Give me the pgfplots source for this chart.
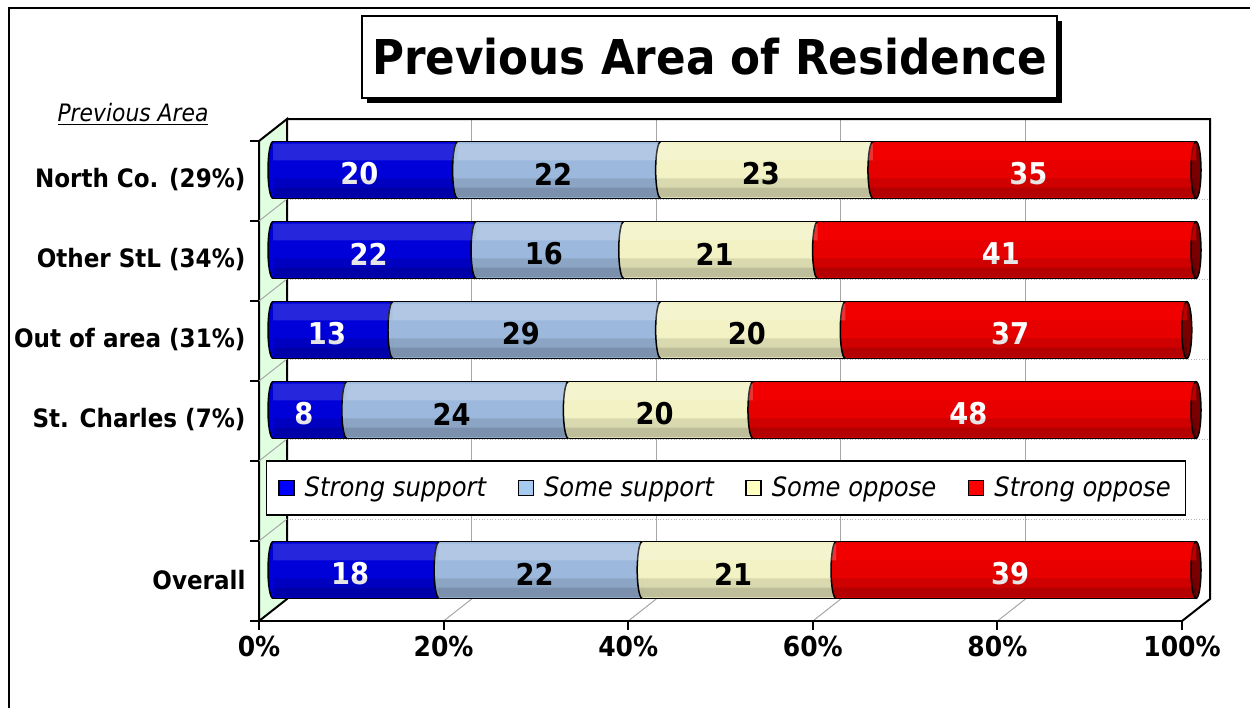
\documentclass[border=0pt]{standalone}
\usepackage{fontspec}
\setmainfont{DejaVu Sans}[FakeStretch=0.91]
\usepackage{pgfplots}
\pgfplotsset{compat=1.18}
\usepackage{pgfplotstable}
\newcommand\fs[1]{\fontsize{#1}{#1}\selectfont}

\definecolor{cBlue}{HTML}{0000FF}
\definecolor{cLBlue}{HTML}{A6CAF0}
\definecolor{cYel}{HTML}{FFFFC0}
\definecolor{cRed}{HTML}{FF0000}
\definecolor{bBlue}{HTML}{0000D8}
\definecolor{bLBlue}{HTML}{9CB8DC}
\definecolor{bYel}{HTML}{F2F2C4}
\definecolor{bRed}{HTML}{E60000}
\definecolor{wallGreen}{HTML}{E0FFE0}
\definecolor{capRed}{HTML}{7A0000}

\pgfplotstableread{
y v
5 20
4 22
3 13
2 8
0 18
}\ssup
\pgfplotstableread{
y v
5 22
4 16
3 29
2 24
0 22
}\smsup
\pgfplotstableread{
y v
5 23
4 21
3 20
2 20
0 21
}\smopp
\pgfplotstableread{
y v
5 35
4 41
3 37
2 48
0 39
}\sopp
\pgfplotstableread{
y v
5 0
4 0
3 0
2 0
0 0
}\zer

% full end cap
\pgfdeclareplotmark{capmark}{\pgfpathellipse{\pgfpointorigin}{\pgfqpoint{3pt}{0pt}}{\pgfqpoint{0pt}{17pt}}\pgfusepathqfillstroke}
% segment start: filled ellipse, only the left arc stroked
\pgfdeclareplotmark{bnd}{%
  \pgfpathellipse{\pgfpointorigin}{\pgfqpoint{3pt}{0pt}}{\pgfqpoint{0pt}{17pt}}\pgfusepathqfill
  \pgfpathmoveto{\pgfqpoint{0pt}{17pt}}\pgfpatharc{90}{270}{3pt and 17pt}\pgfusepathqstroke}

\pgfplotsset{
  base/.style={at={(163.8pt,-366pt)}, anchor=south west, scale only axis,
    width=553.8pt, height=288pt, xmin=0, xmax=100, ymin=-0.5, ymax=5.5, clip=false},
  barlbl/.style={point meta=explicit symbolic, nodes near coords={\pgfplotspointmeta},
    every node near coord/.append style={anchor=center, xshift=-3.6pt, yshift=-2.4pt, font=\fs{18}\bfseries, text=#1}},
  band/.style={forget plot, draw=none, fill=#1},
}

\begin{document}
\begin{tikzpicture}
\useasboundingbox (0,0) rectangle (750pt,-424.2pt);
\begin{scope}[x=0.6pt,y=-0.6pt]
  % outer frame
  \draw[line width=1.2pt] (9,760) -- (9,8) -- (1300,8);
  % title
  \fill[black] (367,21) rectangle (1062,103);
  \draw[fill=white,line width=1.2pt] (362,16) rectangle (1057,98);
  \node at (709.5,57) {\fs{28.8}\bfseries Previous Area of Residence};
  \node at (133,114) {\fs{14.4}\itshape\underline{Previous Area}};
  % back wall
  \fill[white] (287,119) rectangle (1210,599);
  \foreach \j in {1,...,5} \draw[gray!60,densely dotted,line width=0.6pt] (287,119+80*\j) -- (1210,119+80*\j);
  \foreach \k in {1,...,4} \draw[gray!70,line width=0.6pt] (287+184.6*\k,119) -- (287+184.6*\k,599);
  \draw[line width=1.2pt] (287,119) -- (1210,119) -- (1210,599) -- (1182,621);
  % floor diagonals
  \foreach \k in {1,...,4} \draw[gray!70,line width=0.6pt] (259+184.6*\k,621) -- (287+184.6*\k,599);
  % left wall
  \draw[fill=wallGreen,line width=1.2pt] (259,141) -- (287,119) -- (287,599) -- (259,621) -- cycle;
  \foreach \j in {1,...,5} \draw[gray!70,line width=0.6pt] (259,141+80*\j) -- (287,119+80*\j);
  % front floor line
  \draw[line width=1.2pt] (259,621) -- (1182,621);
  % ticks
  \foreach \j in {0,...,6} \draw[line width=1.2pt] (250,141+80*\j) -- (259,141+80*\j);
  \foreach \k in {0,...,5} \draw[line width=1.2pt] (259+184.6*\k,621) -- (259+184.6*\k,630);
\end{scope}

% main bars
\begin{axis}[base,
  xbar stacked, bar width=0.71,
  axis line style={draw=none}, major tick length=0pt,
  xtick={0,20,40,60,80,100},
  xticklabels={0\%,20\%,40\%,60\%,80\%,100\%},
  ytick={0,1,2,3,4,5},
  yticklabels={Overall,{},St. Charles (7\%),Out of area (31\%),Other StL (34\%),North Co. (29\%)},
  xticklabel style={font=\fs{16.5}\bfseries, anchor=north, xshift=-8.4pt, yshift=-12pt},
  yticklabel style={font=\fs{15.2}\bfseries, anchor=east, xshift=-13pt, yshift=-6pt},
  legend columns=4,
  legend cell align=left,
  legend style={at={(0.491,0.254)}, anchor=center, draw=black, line width=0.9pt, fill=white,
    font=\fs{16}\itshape, inner xsep=7pt, inner ysep=7.5pt,
    /tikz/every odd column/.append style={column sep=4pt},
    /tikz/every even column/.append style={column sep=17pt}},
]
\addplot[forget plot, draw=black, line width=0.9pt, fill=bBlue, barlbl=white] table[x=v,y=y,meta=v]{\ssup};
\addplot[forget plot, draw=black, line width=0.9pt, fill=bLBlue, barlbl=black] table[x=v,y=y,meta=v]{\smsup};
\addplot[forget plot, draw=black, line width=0.9pt, fill=bYel, barlbl=black] table[x=v,y=y,meta=v]{\smopp};
\addplot[forget plot, draw=black, line width=0.9pt, fill=bRed, barlbl=white] table[x=v,y=y,meta=v]{\sopp};

\addlegendimage{legend image code/.code={\draw[fill=cBlue,draw=black,line width=0.8pt] (0pt,-4.5pt) rectangle (9pt,4.5pt);}}
\addlegendentry{Strong support}
\addlegendimage{legend image code/.code={\draw[fill=cLBlue,draw=black,line width=0.8pt] (0pt,-4.5pt) rectangle (9pt,4.5pt);}}
\addlegendentry{Some support}
\addlegendimage{legend image code/.code={\draw[fill=cYel,draw=black,line width=0.8pt] (0pt,-4.5pt) rectangle (9pt,4.5pt);}}
\addlegendentry{Some oppose}
\addlegendimage{legend image code/.code={\draw[fill=cRed,draw=black,line width=0.8pt] (0pt,-4.5pt) rectangle (9pt,4.5pt);}}
\addlegendentry{Strong oppose}
\end{axis}

% rounded segment starts and end caps
\begin{axis}[base, hide axis, stack plots=x]
\addplot[forget plot, only marks, mark=bnd, mark options={fill=bBlue, draw=black, line width=0.9pt}] table[x=v,y=y]{\zer};
\addplot[forget plot, only marks, mark=bnd, mark options={fill=bLBlue, draw=black, line width=0.9pt}] table[x=v,y=y]{\ssup};
\addplot[forget plot, only marks, mark=bnd, mark options={fill=bYel, draw=black, line width=0.9pt}] table[x=v,y=y]{\smsup};
\addplot[forget plot, only marks, mark=bnd, mark options={fill=bRed, draw=black, line width=0.9pt}] table[x=v,y=y]{\smopp};
\addplot[forget plot, only marks, mark=capmark, mark options={fill=capRed, draw=black, line width=0.9pt}] table[x=v,y=y]{\sopp};
\end{axis}

% cylinder highlight
\begin{axis}[base, hide axis, xbar stacked, bar width=0.21, bar shift=0.225]
\addplot[band=white, fill opacity=0.15] table[x=v,y=y]{\ssup};
\addplot[band=white, fill opacity=0.22] table[x=v,y=y]{\smsup};
\addplot[band=white, fill opacity=0.2] table[x=v,y=y]{\smopp};
\addplot[band=red, fill opacity=0.5] table[x=v,y=y]{\sopp};
\end{axis}
% cylinder shadow
\begin{axis}[base, hide axis, xbar stacked, bar width=0.24, bar shift=-0.225]
\addplot[band=black, fill opacity=0.1] table[x=v,y=y]{\ssup};
\addplot[band=black, fill opacity=0.1] table[x=v,y=y]{\smsup};
\addplot[band=black, fill opacity=0.1] table[x=v,y=y]{\smopp};
\addplot[band=black, fill opacity=0.1] table[x=v,y=y]{\sopp};
\end{axis}
\begin{axis}[base, hide axis, xbar stacked, bar width=0.12, bar shift=-0.28]
\addplot[band=black, fill opacity=0.12] table[x=v,y=y]{\ssup};
\addplot[band=black, fill opacity=0.12] table[x=v,y=y]{\smsup};
\addplot[band=black, fill opacity=0.12] table[x=v,y=y]{\smopp};
\addplot[band=black, fill opacity=0.12] table[x=v,y=y]{\sopp};
\end{axis}
\end{tikzpicture}
\end{document}
